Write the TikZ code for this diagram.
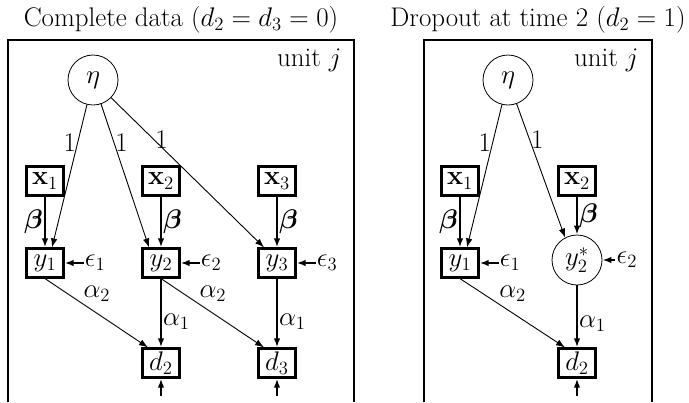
\documentclass[tikz,border=0pt]{standalone}
\usepackage{bm}
\usetikzlibrary{arrows.meta,calc}
\def\pxu{0.77}
\begin{document}
\begin{tikzpicture}[x=\pxu pt,y=-\pxu pt,
  font=\fontsize{20.74}{25}\selectfont,
  obs/.style={draw,line width=\pxu*2.2pt,rectangle,minimum width=\pxu*37pt,minimum height=\pxu*29pt,inner sep=\pxu*1pt},
  lat/.style={draw,line width=\pxu*0.8pt,circle,minimum size=\pxu*50pt,inner sep=0pt},
  thinarr/.style={line width=\pxu*0.9pt,-{Latex[length=\pxu*9pt,width=\pxu*6.5pt]}},
  thickarr/.style={line width=\pxu*2.2pt,-{Latex[length=\pxu*9pt,width=\pxu*6.5pt]}},
  frame/.style={line width=\pxu*2.2pt},
  lbl/.style={inner sep=\pxu*1pt}]
\useasboundingbox (0,0) rectangle (689,402);

% ---------- left panel ----------
\node[anchor=base] (t1) at (181,26) {Complete data ($d_2=d_3=0$)};
\draw[frame] (8,402) -- (8,40) -- (354,40) -- (354,402);
\node[anchor=base east] (u1) at (346,66) {unit $j$};

\node[lat] (eta) at (93,80) {$\eta$};
\node[obs] (x1) at (45,181) {$\mathbf{x}_1$};
\node[obs] (x2) at (161,181) {$\mathbf{x}_2$};
\node[obs] (x3) at (277,181) {$\mathbf{x}_3$};
\node[obs] (y1) at (45,263) {$y_1$};
\node[obs] (y2) at (161,263) {$y_2$};
\node[obs] (y3) at (277,263) {$y_3$};
\node[obs] (d2) at (161,363) {$d_2$};
\node[obs] (d3) at (277,363) {$d_3$};
\node[anchor=west,lbl] (e1) at ($(y1.east)+(19,0)$) {$\epsilon_1$};
\node[anchor=west,lbl] (e2) at ($(y2.east)+(19,0)$) {$\epsilon_2$};
\node[anchor=west,lbl] (e3) at ($(y3.east)+(19,0)$) {$\epsilon_3$};
\coordinate (b2) at (161,396);
\coordinate (b3) at (277,396);

\draw[thinarr] (eta) -- node[pos=0.27,left,lbl] {$1$} ($(y1.north)+(7,0)$);
\draw[thinarr] (eta) -- node[pos=0.27,right,lbl] {$1$} ($(y2.north)+(-12,0)$);
\draw[thinarr] (eta) -- node[pos=0.28,right,lbl] {$1$} ($(y3.north)+(-13,0)$);
\draw[thickarr] (x1) -- node[left,lbl] {$\bm{\beta}$} (y1);
\draw[thickarr] (x2) -- node[right,lbl] {$\bm{\beta}$} (y2);
\draw[thickarr] (x3) -- node[right,lbl] {$\bm{\beta}$} (y3);
\draw[thickarr] (e1) -- (y1);
\draw[thickarr] (e2) -- (y2);
\draw[thickarr] (e3) -- (y3);
\draw[thinarr] (y1.south) -- node[pos=0.36,above right,lbl] {$\alpha_2$} ($(d2.north)+(-13,0)$);
\draw[thinarr] (y2.south) -- node[pos=0.36,above right,lbl] {$\alpha_2$} ($(d3.north)+(-13,0)$);
\draw[thickarr] (y2) -- node[pos=0.62,right,lbl] {$\alpha_1$} (d2);
\draw[thickarr] (y3) -- node[pos=0.62,right,lbl] {$\alpha_1$} (d3);
\draw[thickarr] (b2) -- (d2);
\draw[thickarr] (b3) -- (d3);

% ---------- right panel ----------
\node[anchor=base] (t2) at (538,26) {Dropout at time 2 ($d_2=1$)};
\draw[frame] (424,402) -- (424,40) -- (652,40) -- (652,402);
\node[anchor=base east] (u2) at (643,66) {unit $j$};

\node[lat] (reta) at (508,80) {$\eta$};
\node[obs] (rx1) at (460,181) {$\mathbf{x}_1$};
\node[obs] (rx2) at (577,181) {$\mathbf{x}_2$};
\node[obs] (ry1) at (460,263) {$y_1$};
\node[lat] (ry2) at (577,260) {$y_2^*$};
\node[obs] (rd2) at (577,363) {$d_2$};
\node[anchor=west,lbl] (re1) at ($(ry1.east)+(19,0)$) {$\epsilon_1$};
\node[anchor=west,lbl] (re2) at ($(ry2.east)+(13,0)$) {$\epsilon_2$};
\coordinate (rb2) at (577,396);

\draw[thinarr] (reta) -- node[pos=0.27,left,lbl] {$1$} ($(ry1.north)+(7,0)$);
\draw[thinarr] (reta) -- node[pos=0.27,right,lbl] {$1$} (ry2.118);
\draw[thickarr] (rx1) -- node[left,lbl] {$\bm{\beta}$} (ry1);
\draw[thickarr] (rx2) -- node[right,lbl] {$\bm{\beta}$} (ry2);
\draw[thickarr] (re1) -- (ry1);
\draw[thickarr] (re2) -- (ry2);
\draw[thinarr] (ry1.south) -- node[pos=0.36,above right,lbl] {$\alpha_2$} ($(rd2.north)+(-12,0)$);
\draw[thickarr] (ry2) -- node[pos=0.62,right,lbl] {$\alpha_1$} (rd2);
\draw[thickarr] (rb2) -- (rd2);
\end{tikzpicture}
\end{document}
